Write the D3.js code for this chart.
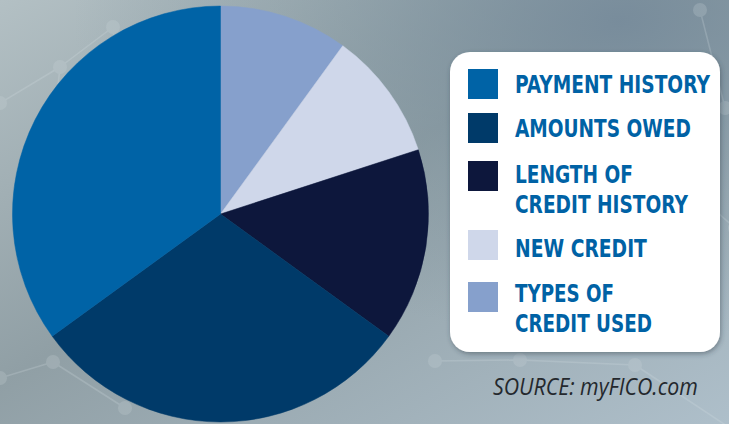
<!DOCTYPE html>
<html><head><meta charset="utf-8">
<script src="https://cdn.jsdelivr.net/npm/d3@7"></script>
<style>html,body{margin:0;padding:0;overflow:hidden;}svg{display:block;}</style>
</head><body>
<svg id="c" width="729" height="424"></svg>
<script>
const categories = ["PAYMENT HISTORY","AMOUNTS OWED","LENGTH OF CREDIT HISTORY","NEW CREDIT","TYPES OF CREDIT USED"];
const labelLines = [["PAYMENT HISTORY"],["AMOUNTS OWED"],["LENGTH OF","CREDIT HISTORY"],["NEW CREDIT"],["TYPES OF","CREDIT USED"]];
const values = [35, 30, 15, 10, 10];
const colors = ["#0063a6","#003a69","#0d173c","#cfd7ea","#86a0cc"];
const sourceText = "SOURCE: myFICO.com";

const svg = d3.select("#c");
const W = 729, H = 424;
const defs = svg.append("defs");

// background gradient
const lg = defs.append("linearGradient").attr("id","bg").attr("x1","0").attr("y1","0").attr("x2","1").attr("y2","1");
lg.append("stop").attr("offset","0").attr("stop-color","#b3c0c4");
lg.append("stop").attr("offset","0.45").attr("stop-color","#909fa5");
lg.append("stop").attr("offset","1").attr("stop-color","#aebfca");
svg.append("rect").attr("width",W).attr("height",H).attr("fill","url(#bg)");
const lg2 = defs.append("radialGradient").attr("id","bg2").attr("cx","0.85").attr("cy","0.05").attr("r","0.75");
lg2.append("stop").attr("offset","0").attr("stop-color","#74899a").attr("stop-opacity","0.85");
lg2.append("stop").attr("offset","0.6").attr("stop-color","#7a909c").attr("stop-opacity","0.3");
lg2.append("stop").attr("offset","1").attr("stop-color","#7a909c").attr("stop-opacity","0");
svg.append("rect").attr("width",W).attr("height",H).attr("fill","url(#bg2)");

// decorative network
const nodes = [[113,27],[60,67],[0,103],[50,161],[125,201],[0,378],[53,362],[125,408],[640,143],[725,108],[735,228],[733,430],[635,365],[520,360],[435,361],[700,10]];
const links = [[0,1],[1,2],[0,4],[1,3],[3,4],[5,6],[6,7],[8,9],[8,10],[12,13],[13,14],[12,11],[9,15]];
const net = svg.append("g").attr("opacity",0.22);
net.selectAll("line").data(links).join("line")
  .attr("x1",d=>nodes[d[0]][0]).attr("y1",d=>nodes[d[0]][1])
  .attr("x2",d=>nodes[d[1]][0]).attr("y2",d=>nodes[d[1]][1])
  .attr("stroke","#d8e2e6").attr("stroke-width",1.5);
net.selectAll("circle").data(nodes).join("circle")
  .attr("cx",d=>d[0]).attr("cy",d=>d[1]).attr("r",7).attr("fill","#d0dade");

// pie
const cx = 220.5, cy = 214, R = 208;
const pie = d3.pie().sort(null).value(d=>d);
// order clockwise from 12 o'clock: types, new, length, amounts, payment
const order = [4,3,2,1,0];
const arcs = pie(order.map(i=>values[i]));
const arc = d3.arc().innerRadius(0).outerRadius(R);
svg.append("g").attr("transform",`translate(${cx},${cy})`)
  .selectAll("path").data(arcs).join("path")
  .attr("d",arc).attr("fill",(d,j)=>colors[order[j]])
  .attr("stroke",(d,j)=>colors[order[j]]).attr("stroke-width",0.5);

// legend box
const filt = defs.append("filter").attr("id","sh").attr("x","-10%").attr("y","-10%").attr("width","120%").attr("height","120%");
filt.append("feDropShadow").attr("dx",1).attr("dy",2).attr("stdDeviation",2.5).attr("flood-color","#2a3a44").attr("flood-opacity",0.45);
svg.append("rect").attr("x",450).attr("y",52).attr("width",270).attr("height",300).attr("rx",20)
  .attr("fill","#ffffff").attr("filter","url(#sh)");

const swY = [69,113,161,230,282];
const baselines = [[93],[137],[183,213],[257],[302,332]];
const widths = [[195],[176],[118,173],[132],[99,137]];
const leg = svg.append("g");
categories.forEach((c,i)=>{
  leg.append("rect").attr("x",468).attr("y",swY[i]).attr("width",30).attr("height",30).attr("fill",colors[i]);
  labelLines[i].forEach((t,k)=>{
    const g = leg.append("g").attr("transform",`translate(515,${baselines[i][k]})`);
    const tx = g.append("text").attr("x",0).attr("y",0)
      .attr("font-family","'Liberation Sans Narrow','DejaVu Sans Condensed',sans-serif")
      .attr("font-weight","bold").attr("font-size",24.5).attr("fill","#0062a5")
      .text(t);
    const nat = tx.node().getComputedTextLength();
    tx.attr("transform",`scale(${widths[i][k]/nat},1)`);
  });
});

const sg = svg.append("g").attr("transform","translate(493,395)");
const st = sg.append("text")
  .attr("font-family","'Open Sans',sans-serif").attr("font-style","italic")
  .attr("font-size",23).attr("fill","#24282d")
  .text(sourceText);
const snat = st.node().getComputedTextLength();
st.attr("transform",`scale(${205/snat},1)`);
</script>
</body></html>
